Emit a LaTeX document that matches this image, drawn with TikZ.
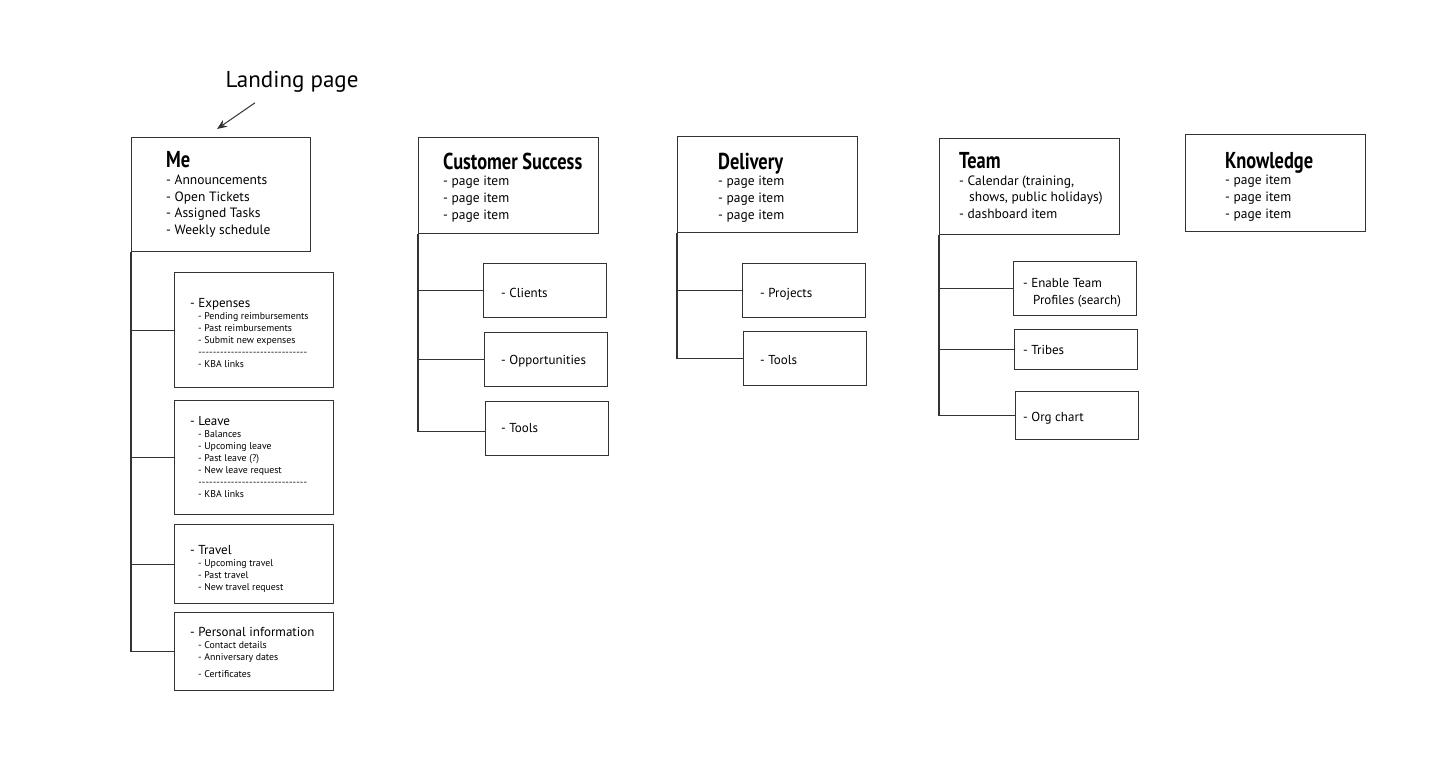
\documentclass[tikz,border=0pt]{standalone}
\usepackage{fontspec}
\setmainfont{PT Sans}
\newfontfamily\headfont{PT Sans}[FakeStretch=0.8]
\usetikzlibrary{arrows.meta,calc}

\newcommand{\pagetitle}[1]{{\headfont\bfseries\fontsize{23}{16.7}\selectfont #1}}
\newcommand{\subhead}[1]{{\fontsize{13}{12}\selectfont #1}}
\newcommand{\sepdashes}{\makebox[109pt][l]{\xleaders\hbox{-}\hfill}}

\tikzset{
  pagebox/.style={draw=black!80, line width=1.1pt, rectangle, inner sep=0pt, anchor=north west},
  mainlist/.style={align=left, anchor=west, inner sep=0pt, font=\fontsize{13.5}{16.7}\selectfont},
  sublist/.style={align=left, anchor=west, inner sep=0pt, font=\fontsize{9.8}{12}\selectfont},
  onelist/.style={align=left, anchor=west, inner sep=0pt, font=\fontsize{13}{16.7}\selectfont},
  link/.style={draw=black!80, line width=1.1pt},
}

\begin{document}
\begin{tikzpicture}[x=1pt,y=-1pt]
    \useasboundingbox (0,0) rectangle (1447,769);

    % top level pages
    \node[pagebox, minimum width=179pt, minimum height=114pt] (me) at (131,137) {};
    \node[pagebox, minimum width=180pt, minimum height=96pt] (cs) at (418,137) {};
    \node[pagebox, minimum width=180pt, minimum height=96pt] (del) at (677,136) {};
    \node[pagebox, minimum width=180pt, minimum height=96pt] (team) at (939,138) {};
    \node[pagebox, minimum width=180pt, minimum height=97pt] (know) at (1185,134) {};

    \node[mainlist] (metxt) at ([shift={(35,0)}]me.west)
        {\pagetitle{Me}\\- Announcements\\- Open Tickets\\- Assigned Tasks\\- Weekly schedule};
    \node[mainlist] (cstxt) at ([shift={(25,2)}]cs.west)
        {\pagetitle{Customer Success}\\- page item\\- page item\\- page item};
    \node[mainlist] (deltxt) at ([shift={(41,3)}]del.west)
        {\pagetitle{Delivery}\\- page item\\- page item\\- page item};
    \node[mainlist] (teamtxt) at ([shift={(20,-1)}]team.west)
        {\pagetitle{Team}\\- Calendar (training,\\\hspace*{10pt}shows, public holidays)\\- dashboard item};
    \node[mainlist] (knowtxt) at ([shift={(40,3.5)}]know.west)
        {\pagetitle{Knowledge}\\- page item\\- page item\\- page item};

    \node[font=\fontsize{23}{26}\selectfont, inner sep=2pt] (landing) at (292,82) {Landing page};
    \coordinate (lphead) at (217,129);
    \draw[link, line width=1pt, -{Stealth[length=10pt,width=8pt]}] ([xshift=-37pt,yshift=-8pt]landing.south) -- (lphead);

    % Me sub pages
    \node[pagebox, minimum width=159pt, minimum height=115pt] (exp) at (174,272) {};
    \node[pagebox, minimum width=159pt, minimum height=114pt] (leave) at (174,400) {};
    \node[pagebox, minimum width=159pt, minimum height=79pt] (trav) at (174,524) {};
    \node[pagebox, minimum width=159pt, minimum height=78pt] (pers) at (174,612) {};

    \node[sublist] (exptxt) at ([shift={(16,2.5)}]exp.west)
        {\subhead{- Expenses}\\\hspace*{8pt}- Pending reimbursements\\\hspace*{8pt}- Past reimbursements\\\hspace*{8pt}- Submit new expenses\\\hspace*{8pt}\sepdashes\\\hspace*{8pt}- KBA links};
    \node[sublist] (leavetxt) at ([shift={(16,-1)}]leave.west)
        {\subhead{- Leave}\\\hspace*{8pt}- Balances\\\hspace*{8pt}- Upcoming leave\\\hspace*{8pt}- Past leave (?)\\\hspace*{8pt}- New leave request\\\hspace*{8pt}\sepdashes\\\hspace*{8pt}- KBA links};
    \node[sublist] (travtxt) at ([shift={(16,5)}]trav.west)
        {\subhead{- Travel}\\\hspace*{8pt}- Upcoming travel\\\hspace*{8pt}- Past travel\\\hspace*{8pt}- New travel request};
    \node[sublist] (perstxt) at ([shift={(16,1)}]pers.west)
        {\subhead{- Personal information}\\\hspace*{8pt}- Contact details\\\hspace*{8pt}- Anniversary dates\\[5pt]\hspace*{8pt}- Certificates};

    \draw[link] (me.south west) |- (pers.west);
    \draw[link] (me.south west |- exp.west) -- (exp.west);
    \draw[link] (me.south west |- leave.west) -- (leave.west);
    \draw[link] (me.south west |- trav.west) -- (trav.west);

    % Customer Success sub pages
    \node[pagebox, minimum width=123pt, minimum height=54pt] (clients) at (483,263) {};
    \node[pagebox, minimum width=123pt, minimum height=54pt] (opps) at (484,332) {};
    \node[pagebox, minimum width=123pt, minimum height=54pt] (cstools) at (485,401) {};
    \node[onelist] (clientstxt) at ([shift={(18,2)}]clients.west) {- Clients};
    \node[onelist] (oppstxt) at ([shift={(17,2)}]opps.west) {- Opportunities};
    \node[onelist] (cstoolstxt) at ([shift={(16,-1)}]cstools.west) {- Tools};

    \draw[link] (cs.south west) |- ([yshift=-3pt]cstools.west);
    \draw[link] (cs.south west |- clients.west) -- (clients.west);
    \draw[link] (cs.south west |- opps.west) -- (opps.west);

    % Delivery sub pages
    \node[pagebox, minimum width=123pt, minimum height=54pt] (proj) at (742,263) {};
    \node[pagebox, minimum width=123pt, minimum height=54pt] (deltools) at (743,331) {};
    \node[onelist] (projtxt) at ([shift={(18,4)}]proj.west) {- Projects};
    \node[onelist] (deltoolstxt) at ([shift={(17,1)}]deltools.west) {- Tools};

    \draw[link] (del.south west) |- (deltools.west);
    \draw[link] (del.south west |- proj.west) -- (proj.west);

    % Team sub pages
    \node[pagebox, minimum width=123pt, minimum height=54pt] (profiles) at (1013,261) {};
    \node[pagebox, minimum width=123pt, minimum height=40pt] (tribes) at (1014,329) {};
    \node[pagebox, minimum width=123pt, minimum height=48pt] (org) at (1015,391) {};
    \node[onelist] (profilestxt) at ([shift={(10,4)}]profiles.west) {- Enable Team\\\hspace*{10pt}Profiles (search)};
    \node[onelist] (tribestxt) at ([shift={(9,0)}]tribes.west) {- Tribes};
    \node[onelist] (orgtxt) at ([shift={(8,3)}]org.west) {- Org chart};

    \draw[link] (team.south west) |- (org.west);
    \draw[link] (team.south west |- profiles.west) -- (profiles.west);
    \draw[link] (team.south west |- tribes.west) -- (tribes.west);
\end{tikzpicture}
\end{document}
